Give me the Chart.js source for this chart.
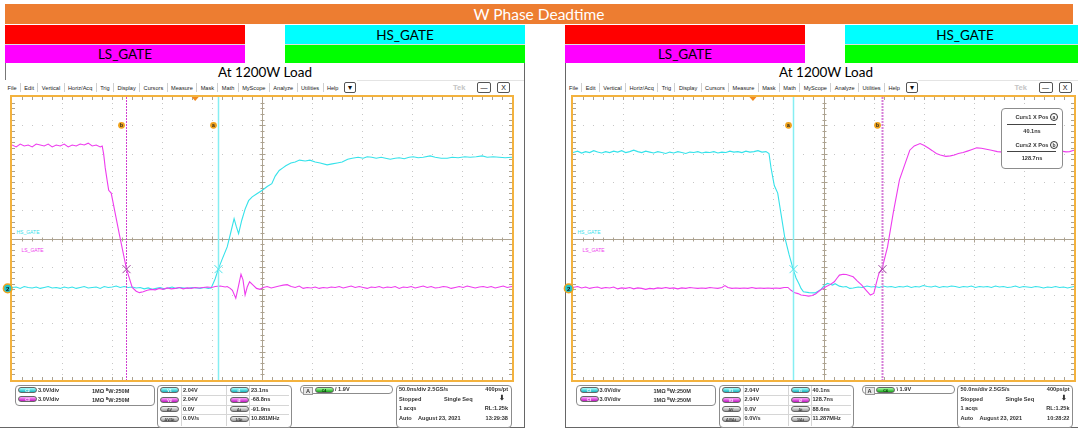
<!DOCTYPE html>
<html><head><meta charset="utf-8">
<script src="https://cdn.jsdelivr.net/npm/chart.js@4.4.1/dist/chart.umd.min.js"></script>
<style>
html,body{margin:0;padding:0;background:#fff;}
body{width:1078px;height:430px;position:relative;overflow:hidden;font-family:"Liberation Sans",Arial,sans-serif;}
.a{position:absolute;box-sizing:border-box;}
.hdr{font-family:Lato,"Open Sans",sans-serif;display:flex;align-items:center;justify-content:center;color:#000;white-space:nowrap;}
.menu{display:flex;justify-content:space-between;align-items:center;font-size:5.6px;color:#222;height:11px;white-space:nowrap;}
.sep{width:1px;height:9px;background:#cfcfcf;}
.btn{border:1px solid #555;border-radius:2px;background:#fff;font-size:7px;display:flex;align-items:center;justify-content:center;color:#111;line-height:1;}
.box{border:1px solid #8c8c8c;border-radius:4px;background:#fff;}
.t{position:absolute;font-size:5.6px;font-weight:bold;color:#333;white-space:nowrap;line-height:7px;}
.bd{position:absolute;height:6px;width:19px;border-radius:3px;font-size:3.6px;font-weight:bold;color:#fff;text-align:center;line-height:6px;border:0.5px solid #666;box-sizing:border-box;}
.cy{background:linear-gradient(#a8ffff,#18b6be);}
.mg{background:linear-gradient(#ffa8ff,#c018c0);}
.gy{background:linear-gradient(#f4f4f4,#9c9c9c);color:#333;}
.gn{background:linear-gradient(#a8ffa8,#18a818);color:#030;}
.hl{position:absolute;height:1px;background:#d6d6d6;}
.vl{position:absolute;width:1px;background:#d6d6d6;}
.lbl{position:absolute;font-size:5px;white-space:nowrap;line-height:6px;}
</style></head>
<body>
<script>
// ---------------- DATA ----------------
// waveform samples: [time (ns), voltage (V)]
const leftLsGate = [[-183.2,15.2],[-179,15.0],[-175,15.3],[-171,15.1],[-167,15.2],[-163,15.0],[-159,15.3],[-155,15.2],[-151,15.1],[-147,15.3],[-143,15.0],[-139,15.2],[-135,15.1],[-131,15.3],[-127,15.0],[-123,15.2],[-119,15.1],[-115,15.3],[-111,15.2],[-107,15.4],[-103,15.1],[-99,15.2],[-95,15.0],[-93,15.1],[-91.5,14.2],[-90,12.8],[-88,11.4],[-86.5,10.4],[-84,10.1],[-76,5.8],[-68.8,2.1],[-63,0.1],[-59,-0.3],[-55.8,-0.45],[-52,-0.35],[-48,-0.2],[-44,-0.1],[-40,-0.15],[-36,0.0],[-32,-0.1],[-28,0.05],[-24,-0.05],[-20,0.0],[-16,0.1],[-12,-0.05],[-8,0.05],[-4,0.0],[0,0.1],[4,0.05],[8,0.1],[12,0.15],[16.5,0.1],[20,0.2],[25,0.25],[30,0.15],[32,0.2],[35,0.0],[37.2,-0.2],[40.6,-1.05],[43,0.1],[45.8,1.5],[47.8,0.9],[49.9,-0.7],[52,0.15],[54.4,0.7],[57.9,0.35],[61.3,0.0],[64.8,-0.1],[68,0.1],[72,0.2],[76,0.05],[80,0.15],[84,0.25],[88,0.35],[92,0.4],[96,0.2],[100,0.1],[104,0.25],[108,0.0],[112,0.1],[116,0.05],[120,0.15],[124,0.0],[128,0.1],[132,0.05],[136,0.15],[140,0.1],[144,0.2],[148,0.05],[152,0.15],[156,0.25],[160,0.1],[164,0.2],[168,0.1],[172,0.0],[176,0.15],[180,0.1],[184,0.2],[188,0.05],[192,0.15],[196,0.1],[200,0.2],[204,0.0],[208,0.15],[212,0.1],[216,0.2],[220,0.05],[224,0.15],[228,0.25],[232,0.1],[236,0.2],[240,0.05],[244,0.1],[248,0.2],[252,0.15],[256,0.0],[260,0.1],[264,0.2],[268,0.1],[272,0.25],[276,0.15],[280,0.05],[284,0.15],[288,0.2],[292,0.1],[296,0.2],[300,0.05],[304,0.15],[308,0.25],[312,0.1],[316.8,0.2]];
const leftHsGate = [[-183.2,0.1],[-179,0.15],[-175,0.0],[-171,0.2],[-167,0.1],[-163,0.05],[-159,0.15],[-155,0.0],[-151,0.1],[-147,0.2],[-143,0.05],[-139,0.1],[-135,0.0],[-131,0.15],[-127,0.05],[-123,0.15],[-119,0.0],[-115,0.1],[-111,0.2],[-107,0.05],[-103,0.1],[-99,0.15],[-95,0.0],[-91,0.2],[-87,0.1],[-83,0.15],[-79,0.25],[-75,0.1],[-71,0.2],[-67,0.1],[-63,0.15],[-59,0.05],[-55,0.1],[-51,-0.05],[-47,0.05],[-43,-0.1],[-39,0.0],[-35,0.1],[-31,-0.05],[-27,0.05],[-23,0.15],[-19,0.0],[-15,0.1],[-11,0.05],[-7,0.0],[-3,0.1],[1,0.05],[5,0.0],[9,0.1],[13,0.0],[16,0.05],[19.9,1.0],[23.1,2.04],[27,3.1],[32,4.4],[35.5,5.9],[38.9,7.4],[41,6.6],[43.4,5.8],[46.5,7.2],[49.9,8.4],[53.4,9.3],[57,9.7],[61.3,10.0],[67.1,10.4],[72,10.8],[76.6,11.1],[80,11.9],[84,12.5],[88,12.8],[90.6,13.0],[95.7,13.3],[100,13.4],[104.3,13.6],[110,13.5],[114.7,13.6],[120,13.4],[125,13.3],[131.9,13.1],[137,13.2],[142,13.3],[147,13.4],[152.5,13.7],[157,13.8],[162.9,13.9],[168,13.8],[172,13.95],[176.6,13.9],[181,13.8],[186,13.9],[190.4,13.8],[195,13.7],[200,13.8],[204,13.85],[209,13.75],[214,13.9],[218,13.95],[223,13.85],[228,13.9],[235,14.05],[240,13.9],[246,13.8],[252,13.8],[257,13.9],[263,13.85],[269.6,13.95],[275,13.9],[281,13.95],[287,14.05],[292,13.9],[298,13.95],[304,13.9],[310,13.85],[316.8,13.9]];
const rightHsGate = [[-179.6,14.4],[-175,14.55],[-171,14.35],[-167,14.5],[-163,14.4],[-159,14.6],[-155,14.45],[-151,14.35],[-147,14.5],[-143,14.4],[-139,14.55],[-135,14.45],[-131,14.6],[-127,14.4],[-123,14.5],[-119,14.65],[-115,14.5],[-111,14.4],[-107,14.55],[-103,14.45],[-99,14.35],[-95,14.5],[-91,14.4],[-87,14.3],[-83,14.45],[-79,14.35],[-75,14.5],[-71,14.4],[-67,14.3],[-63,14.45],[-59,14.4],[-55,14.5],[-51,14.35],[-47,14.45],[-43,14.4],[-39,14.5],[-35,14.35],[-31,14.45],[-27,14.4],[-23,14.55],[-19,14.45],[-15,14.5],[-11,14.4],[-7,14.55],[-3,14.45],[1,14.5],[5,14.6],[9,14.45],[13,14.5],[16,14.3],[18,12.8],[21.3,10.9],[24.7,10.1],[28,7.9],[31.6,5.5],[36,3.6],[40.1,2.04],[43,1.1],[45.9,0.5],[48,0.0],[50.4,-0.36],[56,-0.45],[62.4,-0.47],[65,-0.3],[68,-0.1],[71,0.3],[74.3,0.53],[77,0.45],[79.4,0.35],[82,0.5],[86.3,0.24],[90,0.15],[93,0.2],[96.6,0.0],[100,0.05],[105,0.15],[109,0.1],[113.8,0.25],[118,0.15],[122,0.2],[126,0.1],[130,0.25],[134,0.15],[138,0.2],[142,0.1],[146,0.2],[150,0.15],[154,0.25],[158,0.1],[162,0.2],[166,0.15],[170,0.3],[174,0.2],[178,0.15],[182,0.25],[186,0.1],[190,0.2],[194,0.15],[198,0.25],[202,0.2],[206,0.1],[210,0.2],[214,0.15],[218,0.25],[222,0.1],[226,0.2],[230,0.15],[234,0.2],[238,0.1],[242,0.25],[246,0.15],[250,0.2],[254,0.1],[258,0.15],[262,0.25],[266,0.1],[270,0.2],[274,0.15],[278,0.1],[282,0.2],[286,0.15],[290,0.05],[294,0.15],[298,0.1],[302,0.2],[306,0.1],[310,0.15],[314,0.05],[320.4,0.2]];
const rightLsGate = [[-179.6,0.1],[-175,0.2],[-171,0.05],[-167,0.15],[-163,0.0],[-159,0.1],[-155,0.15],[-151,0.0],[-147,0.1],[-143,0.05],[-139,0.15],[-135,-0.05],[-131,0.05],[-127,0.0],[-123,0.1],[-119,-0.05],[-115,0.05],[-111,0.0],[-107,-0.1],[-103,0.0],[-99,-0.05],[-95,0.05],[-91,0.0],[-87,0.1],[-83,0.0],[-79,0.05],[-75,-0.05],[-71,0.05],[-67,0.0],[-63,0.1],[-59,0.05],[-55,0.0],[-51,0.05],[-47,0.0],[-43,0.1],[-39,0.05],[-35,0.0],[-31,0.1],[-28,0.3],[-25,0.1],[-21,0.0],[-17,0.05],[-13,0.0],[-9,0.05],[-5,0.0],[-1,0.1],[3,0.0],[7,0.05],[11,0.0],[15,0.05],[19,0.0],[23,0.05],[27,0.0],[31,0.1],[34.9,0.1],[38,-0.2],[41.8,-0.47],[45,-0.55],[48,-0.7],[52,-0.75],[55.5,-0.82],[59,-0.75],[62.4,-0.6],[67,-0.2],[70,0.0],[72.7,0.17],[77,0.4],[81.2,0.7],[84,1.1],[86.3,1.41],[90,1.5],[93.2,1.48],[97,1.35],[100,1.23],[104,0.8],[108.6,0.35],[113,-0.2],[117.2,-0.71],[120.6,-0.53],[123,0.5],[125.7,1.59],[128.7,2.04],[134.3,4.4],[140,8.0],[146.2,11.5],[151.4,13.1],[156.5,14.65],[161,15.1],[166.8,15.36],[171,15.15],[175.4,14.85],[179,14.6],[183,14.3],[187,14.15],[192.5,14.0],[197,14.05],[201,14.15],[205,14.3],[209.7,14.4],[214,14.55],[218,14.7],[223.3,14.9],[228,14.85],[233,14.75],[238,14.65],[243.9,14.5],[250,14.45],[258,14.5],[266,14.45],[274,14.55],[282,14.5],[290,14.45],[298,14.5],[304,14.4],[308,14.55],[312.4,14.47],[316,14.5],[320.4,14.65]];
// cursor positions (ns): [cursor a, cursor b]
const leftCursorTimes = [23.1, -68.8];
const rightCursorTimes = [40.1, 128.7];
const cursorLevel = 2.04;
// axis ranges
const leftTimeRange = [-183.2, 316.8];
const rightTimeRange = [-179.6, 320.4];
const voltRange = [-9.71, 20.29];
const nsPerDiv = 50, voltsPerDiv = 3.0;
// readout texts
const leftMeasure = ['2.04V','2.04V','0.0V','0.0V/s','23.1ns','-68.8ns','-91.9ns','10.881MHz'];
const rightMeasure = ['2.04V','2.04V','0.0V','0.0V/s','40.1ns','128.7ns','88.6ns','11.287MHz'];
const leftClock = '13:29:38', rightClock = '10:28:22';

// ---------------- LAYOUT ----------------
const CY = '#36e2ea', MG = '#ee3cee';
function add(cls, x, y, w, h, html, style){
  const d = document.createElement('div');
  d.className = cls;
  d.style.left = x+'px'; d.style.top = y+'px';
  if (w!=null) d.style.width = w+'px';
  if (h!=null) d.style.height = h+'px';
  if (html!=null) d.innerHTML = html;
  if (style) d.style.cssText += style;
  document.body.appendChild(d);
  return d;
}
// header
add('a hdr',5,4,1068,20,'W Phase Deadtime','background:#ED7D31;color:#fff;font-size:15.5px;');
function gateHeader(x1,x2){
  add('a hdr',x1,25,240,19,'','background:#ff0000;');
  add('a hdr',x1,44,240,19,'LS_GATE','background:#ff00ff;font-size:13.5px;border-top:1px solid #ddd;');
  add('a hdr',x2,25,240,19,'HS_GATE','background:#00ffff;font-size:13.5px;');
  add('a hdr',x2,44,240,19,'','background:#00ff00;border-top:1px solid #ddd;');
}
gateHeader(5,285);
gateHeader(565,845);
add('a hdr',165,63,200,17,'At 1200W Load','font-size:13.5px;');
add('a hdr',726,63,200,17,'At 1200W Load','font-size:13.5px;');
// frames
add('a',5,63,1,17,'','background:#777;');
add('a',524,63,1,365,'','background:#666;');
add('a',0,427,525,1,'','background:#666;');
add('a',565,63,1,365,'','background:#666;');
add('a',565,427,513,1,'','background:#666;');
add('a',357,80,167,1,'','background:#e4e4e4;');
add('a',918,80,160,1,'','background:#e4e4e4;');

const menuItems = ['File','Edit','Vertical','Horiz/Acq','Trig','Display','Cursors','Measure','Mask','Math','MyScope','Analyze','Utilities','Help'];

function scopePanel(cfg){
  const ox = cfg.ox;
  const m = add('a menu',ox+7.5,82,331,11);
  menuItems.forEach((it,i)=>{
    if(i>0){const s=document.createElement('span');s.className='sep';m.appendChild(s);}
    const s=document.createElement('span');s.textContent=it;m.appendChild(s);
  });
  add('a btn',ox+344,82,12,11,'▾','font-size:8px;');
  add('a',ox+453,83,20,10,'Tek','font-size:7.5px;color:#c4c4c4;font-weight:bold;line-height:10px;');
  add('a btn',ox+477,82,14,11,'—','font-size:7px;');
  add('a btn',ox+497,82,13,11,'X','font-size:7px;');
  add('lbl',cfg.plotLeft+4.5,229,null,null,'HS_GATE','color:'+CY+';');
  add('lbl',cfg.plotLeft+9.5,247,null,null,'LS_GATE','color:'+MG+';');
  const pad = 10;
  const cv = document.createElement('canvas');
  cv.width = cfg.plotWidth + 2*pad; cv.height = 283 + 2*pad;
  cv.style.cssText = 'position:absolute;left:'+(cfg.plotLeft-pad)+'px;top:'+(97-pad)+'px;width:'+cv.width+'px;height:'+cv.height+'px;';
  document.body.appendChild(cv);
  new Chart(cv, {
    type:'line',
    data:{datasets:[
      {label:'LS_GATE', data:cfg.ls.map(p=>({x:p[0],y:p[1]})), borderColor:MG, borderWidth:1.1, pointRadius:0, tension:0, fill:false},
      {label:'HS_GATE', data:cfg.hs.map(p=>({x:p[0],y:p[1]})), borderColor:CY, borderWidth:1.1, pointRadius:0, tension:0, fill:false}
    ]},
    options:{
      responsive:false, animation:false, events:[],
      layout:{padding:pad},
      plugins:{legend:{display:false}, tooltip:{enabled:false}, scopeMarks:{cursors:cfg.cursors, bWidth:cfg.bWidth, bColor:cfg.bColor, bDash:cfg.bDash}},
      scales:{
        x:{type:'linear', min:cfg.t[0], max:cfg.t[1], display:false},
        y:{type:'linear', min:voltRange[0], max:voltRange[1], display:false}
      }
    },
    plugins:[scopeGrid, scopeMarks]
  });
  // bottom readouts
  const B = (x,y,w,h)=>add('a box',ox+x,y,w,h);
  const T = (x,y,txt,st)=>add('t',ox+x,y,null,null,txt,st||'');
  const TR = (xr,y,txt)=>add('t',ox+xr-60,y,60,null,txt,'text-align:right;');
  const BD = (x,y,cls,txt)=>add('bd '+cls,ox+x,y,null,null,txt);
  const bw = '<sup style="font-size:3.5px;vertical-align:2px">B</sup>';
  B(14.5,385,140,21);
  BD(18,387,'cy','C2'); T(38,386.5,'3.0V/div'); T(92,386.5,'1MΩ '+bw+'W:250M');
  BD(18,396,'mg','C3'); T(38,395.5,'3.0V/div'); T(92,395.5,'1MΩ '+bw+'W:250M');
  B(157,385,135,43);
  const rowsY = [387,396.5,406,415.5];
  const lb = [['cy','V1'],['mg','V2'],['gy','ΔV'],['gy','ΔV/Δt']];
  const rb = [['cy','t1'],['mg','t2'],['gy','Δt'],['gy','1/Δt']];
  for(let i=1;i<4;i++) add('hl',ox+181,rowsY[i]-1.5,108);
  add('vl',ox+181,386,null,40); add('vl',ox+226,386,null,40); add('vl',ox+249,386,null,40);
  rowsY.forEach((ry,i)=>{
    BD(160,ry,lb[i][0],lb[i][1]); T(183,ry-0.5,cfg.meas[i]);
    BD(229.5,ry,rb[i][0],rb[i][1]); T(251,ry-0.5,cfg.meas[4+i]);
  });
  B(300,385,93,9);
  T(303,385.5,'A','background:#e8e8e8;border:0.5px solid #999;padding:0 2px;line-height:6px;top:386.5px;');
  BD(314.5,386.5,'gn','C4'); T(335,385.5,cfg.slope+' 1.9V');
  B(395.5,385,116,43);
  T(399,386,'50.0ns/div 2.5GS/s'); TR(508,386,'400ps/pt');
  T(399,395.5,'Stopped'); T(444,395.5,'Single Seq'); T(499,394,'⬇','font-size:7px;');
  T(399,405,'1 acqs'); TR(508,405,'RL:1.25k');
  T(399,414.5,'Auto'); T(418,414.5,'August 23, 2021'); TR(508,414.5,cfg.clock);
}

// ---------------- PLUGINS ----------------
const scopeGrid = {
  id:'scopeGrid',
  beforeDatasetsDraw(chart){
    const {ctx, chartArea:a, scales:{x,y}} = chart;
    const dx = a.width/10, dy = a.height/10;
    ctx.save();
    ctx.fillStyle = '#c6c6c6';
    for(let k=1;k<10;k++){
      if(k===5) continue;
      const px = Math.round(x.getPixelForValue(x.min+k*nsPerDiv));
      for(let j=1;j<50;j++) ctx.fillRect(px, Math.round(a.top+j*dy/5), 1, 1);
      const py = Math.round(y.getPixelForValue(y.min+k*voltsPerDiv));
      for(let j=1;j<50;j++) ctx.fillRect(Math.round(a.left+j*dx/5), py, 1, 1);
    }
    const cx = Math.round(x.getPixelForValue(x.min+5*nsPerDiv))+0.5;
    const cyy = Math.round(y.getPixelForValue(y.min+5*voltsPerDiv))+0.5;
    ctx.strokeStyle = '#aca290'; ctx.lineWidth = 1;
    ctx.beginPath();
    ctx.moveTo(cx,a.top); ctx.lineTo(cx,a.bottom);
    ctx.moveTo(a.left,cyy); ctx.lineTo(a.right,cyy);
    for(let j=1;j<50;j++){
      const yy = Math.round(a.top+j*dy/5)+0.5, xx = Math.round(a.left+j*dx/5)+0.5;
      const L = (j%5===0)?3:2;
      ctx.moveTo(cx-L,yy); ctx.lineTo(cx+L,yy);
      ctx.moveTo(xx,cyy-L); ctx.lineTo(xx,cyy+L);
      ctx.moveTo(xx,a.top); ctx.lineTo(xx,a.top+3);
      ctx.moveTo(xx,a.bottom); ctx.lineTo(xx,a.bottom-3);
      ctx.moveTo(a.left,yy); ctx.lineTo(a.left+3,yy);
      ctx.moveTo(a.right,yy); ctx.lineTo(a.right-3,yy);
    }
    ctx.stroke();
    ctx.strokeStyle = '#f3b23e'; ctx.lineWidth = 2;
    ctx.strokeRect(a.left-1, a.top-1, a.width+2, a.height+2);
    ctx.restore();
  }
};
const scopeMarks = {
  id:'scopeMarks',
  afterDatasetsDraw(chart, args, opts){
    const {ctx, chartArea:a, scales:{x,y}} = chart;
    const [ta, tb] = opts.cursors;
    const pa = Math.round(x.getPixelForValue(ta))+0.5, pb = Math.round(x.getPixelForValue(tb))+0.5;
    const py = y.getPixelForValue(cursorLevel);
    ctx.save();
    ctx.strokeStyle = opts.bColor; ctx.lineWidth = opts.bWidth; ctx.setLineDash(opts.bDash);
    ctx.beginPath(); ctx.moveTo(pb,a.top); ctx.lineTo(pb,a.bottom); ctx.stroke();
    ctx.setLineDash([]);
    ctx.strokeStyle = '#86eef2'; ctx.lineWidth = 1.5;
    ctx.beginPath(); ctx.moveTo(pa,a.top); ctx.lineTo(pa,a.bottom); ctx.stroke();
    const X = (px,col)=>{ctx.strokeStyle=col;ctx.lineWidth=1;ctx.beginPath();
      ctx.moveTo(px-4,py-4);ctx.lineTo(px+4,py+4);ctx.moveTo(px-4,py+4);ctx.lineTo(px+4,py-4);ctx.stroke();};
    X(pb,'#9a3e9a'); X(pa,'#4fe4ea');
    const ly = y.getPixelForValue(y.max - voltsPerDiv);
    ctx.font = 'bold 5px "Liberation Sans", Arial'; ctx.textAlign='center'; ctx.textBaseline='middle';
    [[pa,'a'],[pb,'b']].forEach(([p,s])=>{
      ctx.fillStyle='#f0a31c'; ctx.beginPath(); ctx.arc(p-5,ly,3.4,0,Math.PI*2); ctx.fill();
      ctx.fillStyle='#222'; ctx.fillText(s,p-5,ly+0.3);
    });
    const p0 = x.getPixelForValue(0);
    ctx.fillStyle='#f08a1e'; ctx.beginPath();
    ctx.moveTo(p0-3.5,a.top); ctx.lineTo(p0+3.5,a.top); ctx.lineTo(p0,a.top+4); ctx.closePath(); ctx.fill();
    const g = y.getPixelForValue(0);
    ctx.fillStyle='#22c4c8'; ctx.strokeStyle='#f0a31c'; ctx.lineWidth=1.5;
    ctx.beginPath(); ctx.arc(a.left-4.3,g,4.3,0,Math.PI*2); ctx.fill(); ctx.stroke();
    ctx.fillStyle='#111'; ctx.font='bold 6px "Liberation Sans", Arial';
    ctx.fillText('2',a.left-4.3,g+0.5);
    ctx.restore();
  }
};

scopePanel({ox:0, plotLeft:12, plotWidth:500, t:leftTimeRange, ls:leftLsGate, hs:leftHsGate,
  cursors:leftCursorTimes, bWidth:1, bColor:'#d040d0', bDash:[2,1], meas:leftMeasure, slope:'/', clock:leftClock});
scopePanel({ox:561.5, plotLeft:573, plotWidth:501, t:rightTimeRange, ls:rightLsGate, hs:rightHsGate,
  cursors:rightCursorTimes, bWidth:2, bColor:'#d67ed8', bDash:[2,1], meas:rightMeasure, slope:'\\', clock:rightClock});

// cursor readout box (right scope)
add('a box',1001,108,62,61,'','background:#fff;');
const CT = (xr,y,txt)=>add('t',xr-60,y,60,null,txt,'text-align:right;');
const circ = s=>'<span style="display:inline-block;border:0.6px solid #333;border-radius:50%;width:6px;height:6px;line-height:6px;text-align:center;font-size:5px">'+s+'</span>';
CT(1058,113,'Curs1 X Pos '+circ('a'));
add('a',1007,124,49,1,'','background:#444;');
add('t',1002,128,60,null,'40.1ns','text-align:center;');
CT(1058,141,'Curs2 X Pos '+circ('b'));
add('a',1007,151,49,1,'','background:#444;');
add('t',1002,155,60,null,'128.7ns','text-align:center;');
</script>
</body></html>
